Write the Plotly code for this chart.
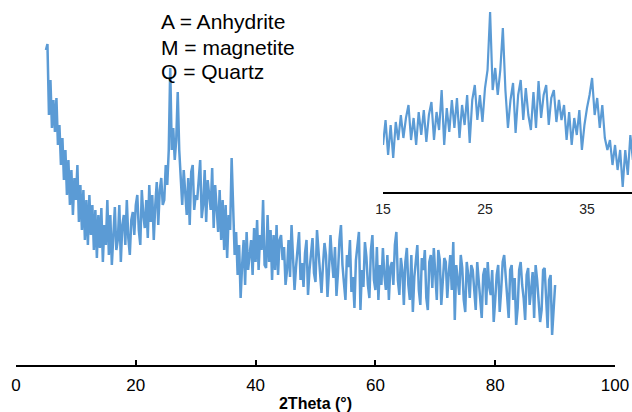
import numpy as np
import plotly.graph_objects as go

# ---------------- main pattern (2Theta 5..90, step 0.25) ----------------
main_start, main_step = 5.0, 0.25
main_intensity = (
    [315, 321, 250, 285, 237, 265, 233, 267, 220, 240, 200, 227]
    + [185, 215, 170, 205, 160, 195, 150, 187, 165, 200, 143, 180, 135]
    + [175, 125, 165, 120, 170, 130, 160, 115, 155, 107, 150, 117, 157, 103]
    + [140, 120, 165, 110, 150, 100, 135, 158, 115, 125, 160, 103, 140, 150, 120, 165, 127, 110, 145, 153]
    + [130, 160, 170, 135, 120, 175, 150, 137, 165, 127, 180, 143, 170, 125, 160, 183, 140, 175, 187, 160]
    + [165, 200, 180, 215, 297, 215, 237, 205, 225, 273, 215, 185]
    + [160, 195, 175, 150, 187, 140, 193, 200, 155, 170, 165, 190, 205, 147, 160, 195, 143, 185, 172, 155,
       197, 137, 180, 150, 133, 175, 125]
    + [165, 115, 160, 107, 150, 135, 207, 150, 110, 133, 90]
    + [120, 67, 100, 125, 80, 133, 95, 110, 125, 90, 137, 103, 145, 95, 130, 115, 165, 100, 97, 150,
       103, 135, 85, 130, 95, 140, 90, 125]
    + [130, 105, 118, 80, 95, 125, 88, 140, 110, 75, 98, 120, 133, 85, 102, 78, 112, 125, 70, 95,
       108, 127, 92, 83, 135, 115, 90, 72, 100, 122, 110, 68, 95, 130, 105, 87, 118, 69, 92, 125,
       140, 100, 82, 65, 110, 98, 125, 73, 88, 57, 105, 120, 133, 55, 95, 78, 123, 108, 80, 67,
       115, 130, 85, 75, 118, 65, 100, 80]
    + [117, 90, 75, 110, 65, 98, 103, 80, 120, 133, 85, 70, 107, 95, 60, 103, 117, 80, 65, 110,
       53, 88, 103, 120, 75, 60, 107, 95, 115, 67, 55, 103, 110, 77, 117, 88, 65, 115, 105, 60,
       80, 107, 103, 67, 92, 110, 75, 123, 45, 100, 85, 70, 110, 97, 65, 53, 103, 90, 67, 100]
    + [95, 70, 55, 103, 85, 67, 47, 90, 97, 60, 103, 78, 70, 95, 43, 65, 90, 100, 53, 75,
       103, 110, 88, 60, 47, 95, 100, 65, 87, 40, 57, 95, 103, 80, 67, 45, 90, 97, 60, 75,
       93, 47, 100, 85, 65, 43, 55, 95, 97, 70, 37, 85, 90, 30, 60, 80]
)
main_theta = [main_start + main_step * i for i in range(len(main_intensity))]

# ---------------- inset pattern (2Theta 15..39.5, step 0.25) ----------------
inset_start, inset_step = 15.0, 0.25
inset_intensity = [
    47, 72, 37, 67, 34, 70, 52, 77, 54, 74,
    87, 52, 74, 47, 80, 57, 82, 50, 77, 90,
    52, 80, 62, 102, 47, 84, 60, 92, 64, 94,
    54, 87, 67, 97, 49, 92, 107, 72, 97, 70,
    104, 122, 180, 102, 124, 97, 122, 164, 102, 64,
    92, 109, 59, 97, 112, 72, 104, 77, 62, 100,
    64, 111, 74, 97, 107, 67, 94, 102, 70, 92,
    72, 87, 52, 80, 47, 74, 57, 82, 42, 67,
    84, 97, 114, 77, 94, 64, 87, 54, 42, 52,
    27, 47, 22, 42, 5, 42, 17, 57, 32,
]
inset_theta = [inset_start + inset_step * i for i in range(len(inset_intensity))]

main_ticks = [0, 20, 40, 60, 80, 100]
inset_ticks = [15, 25, 35]
legend_lines = ["A = Anhydrite", "M = magnetite", "Q = Quartz"]
x_title = "2Theta (°)"

W, H = 632, 412
LINE = "#5B9BD5"
FONT = "Liberation Sans, Arial, sans-serif"

fig = go.Figure()
fig.add_trace(go.Scatter(x=main_theta, y=main_intensity, mode="lines",
                         line=dict(color=LINE, width=2.5), xaxis="x", yaxis="y",
                         showlegend=False, hoverinfo="skip"))
fig.add_trace(go.Scatter(x=inset_theta, y=inset_intensity, mode="lines",
                         line=dict(color=LINE, width=2.2), xaxis="x2", yaxis="y2",
                         showlegend=False, hoverinfo="skip"))

plot_h = 365
fig.update_layout(
    width=W, height=H,
    margin=dict(l=0, r=0, t=0, b=H - plot_h, pad=0, autoexpand=False),
    paper_bgcolor="white", plot_bgcolor="rgba(0,0,0,0)",
    font=dict(family=FONT, color="#000"),
    xaxis=dict(domain=[16 / W, 615 / W], range=[0, 100], tickvals=main_ticks,
               showline=True, linecolor="#000", linewidth=2, ticks="inside",
               ticklen=5, tickwidth=2, tickcolor="#000", showgrid=False, zeroline=False,
               tickfont=dict(size=17, family=FONT, color="#000"), ticklabelstandoff=4,
               automargin=False,
               title=dict(text="<b>" + x_title + "</b>", font=dict(size=16, family=FONT, color="#000"),
                          standoff=4),
               anchor="y"),
    yaxis=dict(domain=[0, 1], range=[0, 365], visible=False, fixedrange=True, automargin=False),
    xaxis2=dict(domain=[383 / W, 1.0], range=[15, 15 + 249 / 10.2], tickvals=inset_ticks,
                showline=True, linecolor="#000", linewidth=2, ticks="", showgrid=False,
                zeroline=False, tickfont=dict(size=14, family=FONT, color="#222"),
                ticklabelstandoff=3, automargin=False, anchor="y2"),
    yaxis2=dict(domain=[(plot_h - 192) / plot_h, 1.0], range=[0, 192], visible=False,
                anchor="x2", automargin=False),
)

ys = [22, 47, 72]
for txt, yp in zip(legend_lines, ys):
    fig.add_annotation(text=txt, xref="paper", yref="paper", x=159 / W,
                       y=(plot_h - yp) / plot_h, xanchor="left", yanchor="middle",
                       showarrow=False, font=dict(size=21, family=FONT, color="#000"))

fig.write_html("out.html")
